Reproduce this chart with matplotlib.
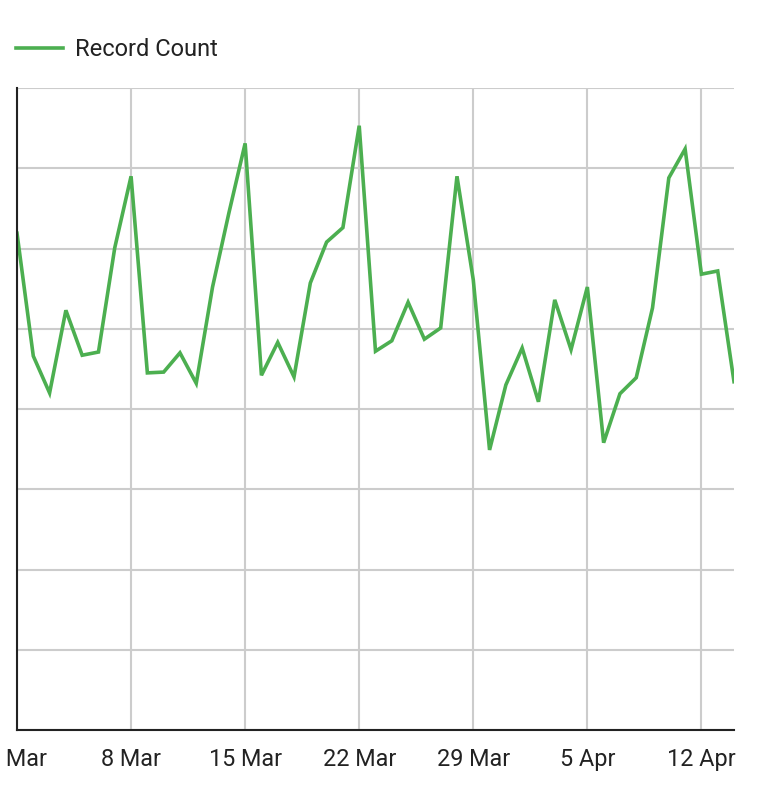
#!/usr/bin/env python
import matplotlib
matplotlib.use('Agg')
import matplotlib.pyplot as plt
import matplotlib.dates as mdates
import pandas as pd

plt.rcParams['font.family'] = ['Roboto', 'DejaVu Sans']

# daily record counts, 1 Mar - 14 Apr
dates = pd.date_range('2020-03-01', '2020-04-14', freq='D')
counts = [619, 466, 420, 523, 467, 471, 601, 690, 445, 446,
          470, 432, 552, 644, 731, 442, 483, 440, 557, 608,
          626, 753, 472, 485, 533, 487, 501, 690, 561, 349,
          430, 476, 409, 536, 474, 552, 358, 419, 439, 526,
          688, 724, 568, 572, 434]
tick_dates = pd.date_range('2020-03-01', '2020-04-12', freq='7D')

W, H = 766, 790
fig = plt.figure(figsize=(W / 100, H / 100), dpi=100)
ax = fig.add_axes([17 / W, 60 / H, (734 - 17) / W, (730 - 88) / H])

line, = ax.plot(dates, counts, color='#4caf50', lw=2.6, label='Record Count',
                solid_joinstyle='miter')

ax.set_xlim(dates[0], dates[-1])
ax.set_ylim(0, 800)
ax.set_yticks(range(0, 801, 100))
ax.set_xticks(tick_dates)
ax.xaxis.set_major_formatter(
    matplotlib.ticker.FuncFormatter(
        lambda v, p: '%d %s' % (mdates.num2date(v).day, mdates.num2date(v).strftime('%b'))))
ax.tick_params(axis='both', length=0, labelsize=16.8, colors='#222222', pad=13)
ax.tick_params(axis='y', labelleft=False)
ax.grid(True, color='#cccccc', lw=1.5)
ax.set_axisbelow(True)
for s in ['top', 'right']:
    ax.spines[s].set_visible(False)
for s in ['left', 'bottom']:
    ax.spines[s].set_color('#222222')
    ax.spines[s].set_linewidth(1.5)
    ax.spines[s].set_zorder(3)

fig.legend(handles=[line], loc='center left', bbox_to_anchor=(16 / W, 1 - 50 / H),
           frameon=False, fontsize=17, handlelength=2.0, handletextpad=0.5,
           borderpad=0, borderaxespad=0, labelcolor='#222222')

fig.savefig('out.png', dpi=100)
